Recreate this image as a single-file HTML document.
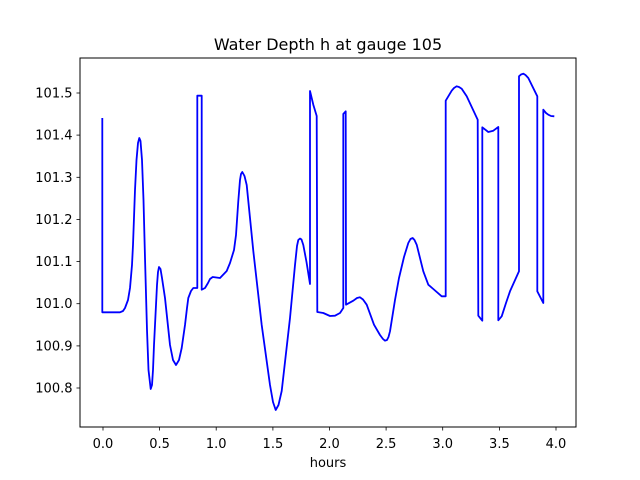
<!DOCTYPE html><html><head><style>body{margin:0;background:#fff}svg{display:block}text{font-family:"DejaVu Sans","Liberation Sans",sans-serif;fill:#000}</style></head><body>
<svg width="640" height="480" xmlns="http://www.w3.org/2000/svg">
<rect width="640" height="480" fill="#fff"/>
<text x="328" y="50" font-size="16" text-anchor="middle">Water Depth h at gauge 105</text>
<polyline fill="none" stroke="#0000ff" stroke-width="1.8" stroke-linejoin="round" points="102.3,118 102.3,312.3 120,312.3 123,311 125,308 128,300 130,288 132,265 133,245 135,190 136.5,160 138,143 139.3,138 140.5,141 142,160 143.5,200 145,258 147,330 148.5,370 150.7,389 152,385 153,370 154,345 155,325 157,285 158,272 159,267 160.5,269 162,278 165,298 170,345 173,360 176,365 179,360 181.7,348 185,325 187,308 188.3,298 191,291 193.3,288 197.3,288 197.3,95.7 201.7,95.7 201.7,289.7 205,288 208,283 210,279 212.7,277 220,278 226.7,271 230,263 234,250 236,235 238.3,201 240,180 241,174 242.3,172 244.5,176 246.7,185 253.3,251 261.7,325 270,385 273,402 275.7,410 278.5,405 281.7,391 290,318 295,265 297,246 298.3,240 300,238.5 301.5,239.5 303.3,245 306.5,262 310,284 310,91 313.3,104.7 316.7,116 317.3,312 323.3,313 330,316 335,315.7 340,313 343.3,308 343.3,114 345.7,111.3 346,304.7 353.3,300.7 357,298 360,297.3 363,299.5 366.7,304.7 374,324.7 380,335 383,339 385,340.7 387,340 388.5,337 390,331.3 395,300 399,278 404,257 408.3,243 410.5,239 412.7,238 414.5,240 416.7,244.7 423.3,271.3 428.3,284.7 433.3,289 441.7,296.3 445.7,296.3 445.7,100.7 451.7,90.7 454,88 456.7,86.3 459,87 461.7,88.7 466.7,96.3 477.7,119.7 478.3,315.7 482.3,320.7 482.3,127.3 488.3,132 493.3,130.7 498.3,127 498.3,320.3 501.7,316.3 506,303 510,291.3 519,271.3 519,76.3 521,74.5 523.3,73.7 525.5,75 528.3,78 537.3,96.3 537.3,291.3 543.3,303 543.3,109.7 546,113 548.3,114.7 551,116 554.3,116.3"/>
<rect x="80" y="58" width="496" height="369" fill="none" stroke="#000" stroke-width="1"/>
<g stroke="#000" stroke-width="0.8">
<line x1="103" y1="427" x2="103" y2="430.5"/><line x1="159.6" y1="427" x2="159.6" y2="430.5"/><line x1="216.2" y1="427" x2="216.2" y2="430.5"/><line x1="272.9" y1="427" x2="272.9" y2="430.5"/><line x1="329.5" y1="427" x2="329.5" y2="430.5"/><line x1="386.1" y1="427" x2="386.1" y2="430.5"/><line x1="442.7" y1="427" x2="442.7" y2="430.5"/><line x1="499.4" y1="427" x2="499.4" y2="430.5"/><line x1="556" y1="427" x2="556" y2="430.5"/>
<line x1="76.5" y1="388" x2="80" y2="388"/><line x1="76.5" y1="345.9" x2="80" y2="345.9"/><line x1="76.5" y1="303.7" x2="80" y2="303.7"/><line x1="76.5" y1="261.6" x2="80" y2="261.6"/><line x1="76.5" y1="219.4" x2="80" y2="219.4"/><line x1="76.5" y1="177.3" x2="80" y2="177.3"/><line x1="76.5" y1="135.1" x2="80" y2="135.1"/><line x1="76.5" y1="93" x2="80" y2="93"/>
</g>
<g font-size="13" text-anchor="middle">
<text x="103" y="448">0.0</text><text x="159.6" y="448">0.5</text><text x="216.2" y="448">1.0</text><text x="272.9" y="448">1.5</text><text x="329.5" y="448">2.0</text><text x="386.1" y="448">2.5</text><text x="442.7" y="448">3.0</text><text x="499.4" y="448">3.5</text><text x="556" y="448">4.0</text>
<text x="328" y="467">hours</text>
</g>
<g font-size="13" text-anchor="end">
<text x="72.5" y="392.5">100.8</text><text x="72.5" y="350.4">100.9</text><text x="72.5" y="308.2">101.0</text><text x="72.5" y="266.1">101.1</text><text x="72.5" y="223.9">101.2</text><text x="72.5" y="181.8">101.3</text><text x="72.5" y="139.6">101.4</text><text x="72.5" y="97.5">101.5</text>
</g>
</svg></body></html>
